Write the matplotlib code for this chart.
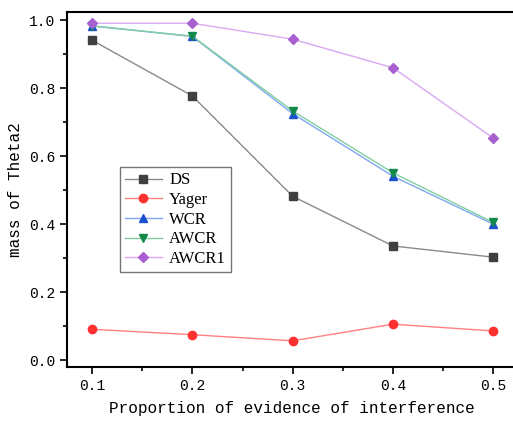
import matplotlib
matplotlib.use("Agg")
import matplotlib.pyplot as plt
from matplotlib.ticker import MultipleLocator

x = [0.1, 0.2, 0.3, 0.4, 0.5]
ds = [0.941, 0.777, 0.482, 0.336, 0.303]
yager = [0.091, 0.075, 0.057, 0.106, 0.086]
wcr = [0.983, 0.952, 0.725, 0.541, 0.400]
awcr = [0.983, 0.953, 0.733, 0.551, 0.405]
awcr1 = [0.991, 0.991, 0.944, 0.860, 0.653]
xticklabels = ["0.1", "0.2", "0.3", "0.4", "0.5"]
yticks = [0.0, 0.2, 0.4, 0.6, 0.8, 1.0]
yticklabels = ["0.0", "0.2", "0.4", "0.6", "0.8", "1.0"]

series = [
    ("DS", ds, "s", "#404040", "#8a8a8a"),
    ("Yager", yager, "o", "#ff3030", "#ff8080"),
    ("WCR", wcr, "^", "#1a4fd0", "#7fa8f0"),
    ("AWCR", awcr, "v", "#138a4a", "#80cfa0"),
    ("AWCR1", awcr1, "D", "#a860d0", "#d8a8f0"),
]

mono = ["Liberation Mono", "DejaVu Sans Mono"]
serif = ["Liberation Serif", "DejaVu Serif"]

fig = plt.figure(figsize=(5.13, 4.24), dpi=100)
ax = fig.add_axes([0.1306, 0.1344, 0.876, 0.8373])

for name, vals, m, mc, lc in series:
    ms = 6 if m != "D" else 5.5
    ax.plot(x, vals, color=lc, lw=1.0, marker=m, markersize=ms,
            markerfacecolor=mc, markeredgecolor=mc, label=name)

ax.set_xlim(0.075, 0.523)
ax.set_ylim(-0.02, 1.024)
ax.set_xticks(x)
ax.set_xticklabels(xticklabels, family=mono, fontsize=10.5)
ax.xaxis.set_minor_locator(MultipleLocator(0.05))
ax.set_yticks(yticks)
ax.set_yticklabels(yticklabels, family=mono, fontsize=10.5)
ax.yaxis.set_minor_locator(MultipleLocator(0.1))
ax.tick_params(which="both", direction="out", width=1.2)
ax.tick_params(which="major", length=5)
ax.tick_params(which="minor", length=3)
for s in ax.spines.values():
    s.set_linewidth(1.5)
ax.spines["right"].set_visible(False)

ax.set_xlabel("Proportion of evidence of interference", family=mono, fontsize=11.5, labelpad=6)
ax.set_ylabel("mass of Theta2", family=mono, fontsize=11.5, labelpad=4)

leg = ax.legend(loc="upper left", bbox_to_anchor=(0.118, 0.562), frameon=True,
                fancybox=False, prop={"family": serif, "size": 12},
                handlelength=2.2, borderpad=0.3, labelspacing=0.22,
                handletextpad=0.45, borderaxespad=0)
leg.get_frame().set_edgecolor("#555555")
leg.get_frame().set_linewidth(1.0)

fig.savefig("out.png", dpi=100)
